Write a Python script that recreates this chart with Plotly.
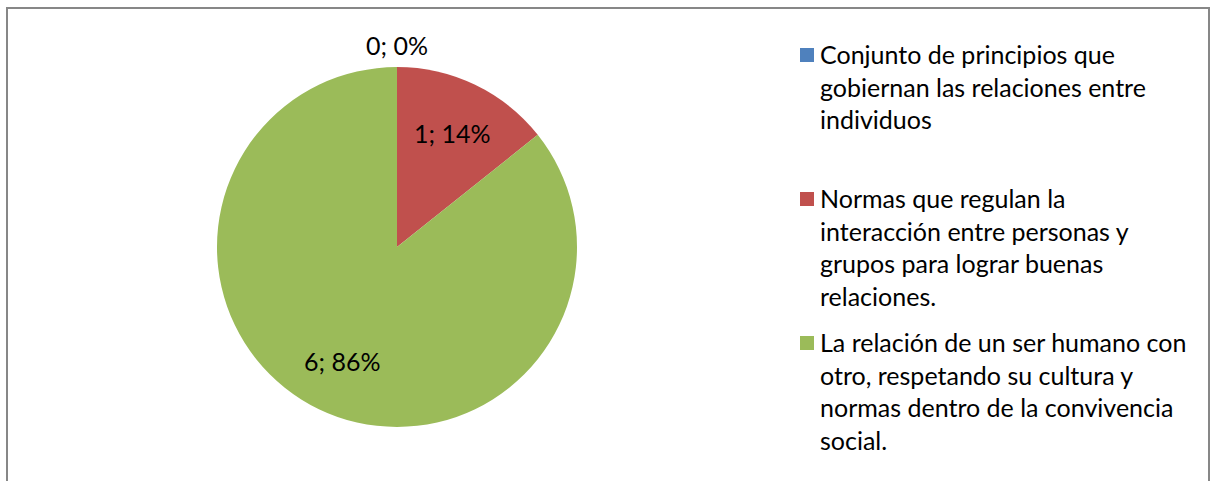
import math
import plotly.graph_objects as go

# Survey answers and their counts
categories = [
    "Conjunto de principios que<br>gobiernan las relaciones entre<br>individuos",
    "Normas que regulan la<br>interacción entre personas y<br>grupos para lograr buenas<br>relaciones.",
    "La relación de un ser humano con<br>otro, respetando su cultura y<br>normas dentro de la convivencia<br>social.",
]
values = [0, 1, 6]
colors = ["#4F81BD", "#C0504D", "#9BBB59"]

W, H = 1217, 481
FONT = "Lato"
FS = 25

# pie placement in pixels
cx, cy, r = 397, 247, 180

fig = go.Figure()
fig.add_trace(go.Pie(
    labels=[c.replace("<br>", " ") for c in categories],
    values=values,
    marker=dict(colors=colors, line=dict(width=0)),
    sort=False,
    direction="clockwise",
    rotation=0,
    textinfo="none",
    hoverinfo="label+value+percent",
    showlegend=False,
    domain=dict(x=[(cx - r) / W, (cx + r) / W], y=[(H - cy - r) / H, (H - cy + r) / H]),
))

annotations = []
total = sum(values)
start = 0.0
for v in values:
    frac = v / total
    mid = (start + frac / 2) * 2 * math.pi
    start += frac
    txt = f"{v}; {round(frac * 100)}%"
    rr = r + 22 if v == 0 else r * 0.7
    px = cx + rr * math.sin(mid)
    py = cy - rr * math.cos(mid)
    annotations.append(dict(
        x=px / W, y=1 - py / H, xref="paper", yref="paper",
        text=txt, showarrow=False, xanchor="center", yanchor="middle",
        font=dict(family=FONT, size=FS, color="#000000"),
    ))

# legend block
shapes = []
leg_x, leg_y0, leg_step = 800, 55, 144
for i, (cat, col) in enumerate(zip(categories, colors)):
    yc = leg_y0 + i * leg_step
    shapes.append(dict(
        type="rect", xref="paper", yref="paper",
        x0=leg_x / W, x1=(leg_x + 14) / W,
        y0=1 - (yc + 7) / H, y1=1 - (yc - 7) / H,
        fillcolor=col, line=dict(width=0),
    ))
    annotations.append(dict(
        x=(leg_x + 18) / W, y=1 - (yc - 18) / H, xref="paper", yref="paper",
        text=cat, showarrow=False, xanchor="left", yanchor="top", align="left",
        font=dict(family=FONT, size=FS, color="#000000"),
    ))

# chart frame
shapes.append(dict(
    type="rect", xref="paper", yref="paper",
    x0=7 / W, x1=1209 / W, y0=-0.05, y1=1 - 8 / H,
    line=dict(color="#878787", width=2), fillcolor="rgba(0,0,0,0)",
))

fig.update_layout(
    width=W, height=H,
    margin=dict(l=0, r=0, t=0, b=0),
    paper_bgcolor="white",
    plot_bgcolor="white",
    annotations=annotations,
    shapes=shapes,
)

fig.write_html("out.html")
